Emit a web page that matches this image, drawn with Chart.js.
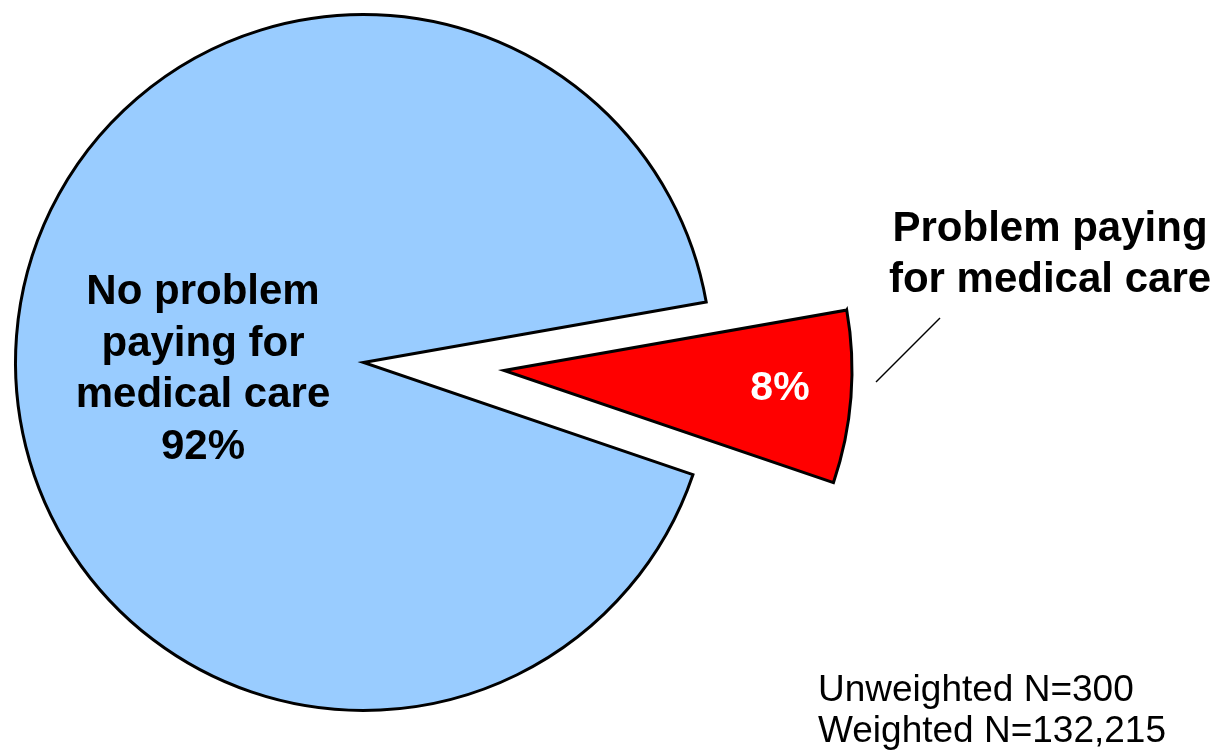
<!DOCTYPE html>
<html>
<head>
<meta charset="utf-8">
<script src="https://cdn.jsdelivr.net/npm/chart.js@4.4.0/dist/chart.umd.min.js"></script>
<style>
  html, body { margin: 0; padding: 0; background: #fff; }
  #quadro { position: relative; width: 1220px; height: 752px; overflow: hidden; }
  #quadro canvas { position: absolute; left: 0; top: 0; }
</style>
</head>
<body>
<div id="quadro">
  <canvas id="pie-base" width="1220" height="752"></canvas>
  <canvas id="pie-fatia" width="1220" height="752"></canvas>
</div>
<script>
var categorias = ['Problem paying for medical care', 'No problem paying for medical care'];
var valores = [8, 92];
var rotulosValor = ['8%', '92%'];
var rotuloProblema = ['Problem paying', 'for medical care'];
var rotuloSemProblema = ['No problem', 'paying for', 'medical care'];
var notas = ['Unweighted N=300', 'Weighted N=132,215'];

var azul = '#99CCFF';
var vermelho = '#FF0000';
var semCor = 'rgba(0,0,0,0)';
var fonte = '"Liberation Sans", Arial, sans-serif';

// textos e linha de chamada
var textos = {
    id: 'textos',
    afterDraw: function(chart) {
        var ctx = chart.ctx;
        ctx.save();
        ctx.textAlign = 'center';
        ctx.textBaseline = 'alphabetic';
        ctx.fillStyle = '#000';
        ctx.font = 'bold 42px ' + fonte;
        var linhas = rotuloSemProblema.concat([rotulosValor[1]]);
        for (var i = 0; i < linhas.length; i++) {
            ctx.fillText(linhas[i], 203, 304 + i * 51.7);
        }
        for (var i = 0; i < rotuloProblema.length; i++) {
            ctx.fillText(rotuloProblema[i], 1050, 241 + i * 51);
        }
        ctx.fillStyle = '#fff';
        ctx.font = 'bold 41px ' + fonte;
        ctx.fillText(rotulosValor[0], 780, 400);

        ctx.strokeStyle = '#000';
        ctx.lineWidth = 1.5;
        ctx.beginPath();
        ctx.moveTo(940, 318);
        ctx.lineTo(876, 382);
        ctx.stroke();

        ctx.textAlign = 'left';
        ctx.fillStyle = '#000';
        ctx.font = '37px ' + fonte;
        for (var i = 0; i < notas.length; i++) {
            ctx.fillText(notas[i], 818, 701 + i * 41);
        }
        ctx.restore();
    }
};

function opcoes(padding) {
    return {
        responsive: false,
        animation: false,
        rotation: 80,
        radius: 348,
        layout: { padding: padding },
        plugins: { legend: { display: false }, tooltip: { enabled: false } }
    };
}

new Chart(document.getElementById('pie-base'), {
    type: 'pie',
    data: {
        labels: categorias,
        datasets: [{
            data: valores,
            backgroundColor: [semCor, azul],
            borderColor: [semCor, '#000'],
            borderWidth: 3,
            borderJoinStyle: 'miter'
        }]
    },
    options: opcoes({ left: 0, top: 0, right: 493, bottom: 27 })
});

// fatia destacada, deslocada para a direita
new Chart(document.getElementById('pie-fatia'), {
    type: 'pie',
    data: {
        labels: categorias,
        datasets: [{
            data: valores,
            backgroundColor: [vermelho, semCor],
            borderColor: ['#000', semCor],
            borderWidth: 3,
            borderJoinStyle: 'miter'
        }]
    },
    options: opcoes({ left: 281, top: 16, right: 493, bottom: 27 }),
    plugins: [textos]
});
</script>
</body>
</html>
